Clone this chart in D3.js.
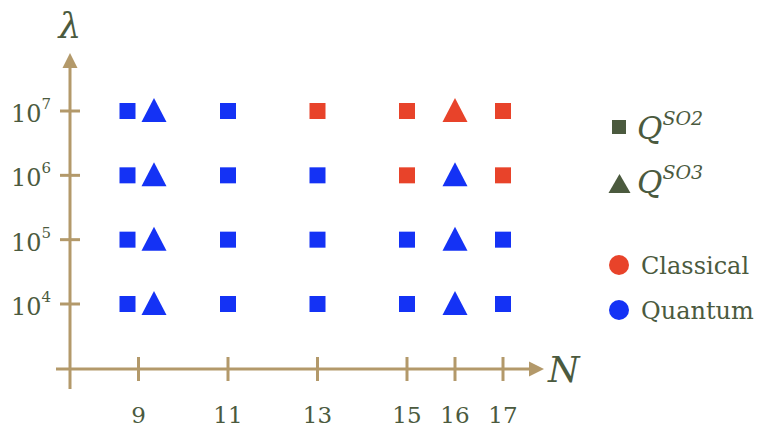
<!DOCTYPE html>
<html>
<head>
<meta charset="utf-8">
<title>SO2 / SO3 classical vs quantum</title>
<script src="https://cdn.jsdelivr.net/npm/d3@7/dist/d3.min.js"></script>
<style>
  body { margin: 0; background: #fff; }
  text { font-family: "DejaVu Serif", "Liberation Serif", serif; fill: #4b5a3e; }
</style>
</head>
<body>
<script>
// data
var nTicks = [9, 11, 13, 15, 16, 17];
var lambdaTicks = [1e4, 1e5, 1e6, 1e7];
var so2N = [9, 11, 13, 15, 17];
var so3N = [9, 16];
// [N, lambda] pairs where the classical method wins; every other point is quantum
var so2Classical = [[13, 1e7], [15, 1e7], [17, 1e7], [15, 1e6], [17, 1e6]];
var so3Classical = [[16, 1e7]];

var w = 766, h = 431;
var axisCol = "#b3996a", textCol = "#4b5a3e";
var red = "#e8432a", blue = "#1432f5";

var svg = d3.select("body").append("svg")
    .attr("width", w)
    .attr("height", h);

// N spacing is not uniform in the figure (9..15 wide, 15..17 narrow)
var x = d3.scaleLinear().domain([9, 15, 17]).range([138.5, 407, 503]);
var y = d3.scaleLog().domain([1e4, 1e7]).range([304, 111]);
var x0 = 70, y0 = 369;

function isClassical(list, n, l) {
    return list.some(function(p) { return p[0] === n && p[1] === l; });
}

// axes
svg.append("line").attr("x1", x0).attr("x2", x0).attr("y1", 389).attr("y2", 64)
    .attr("stroke", axisCol).attr("stroke-width", 3);
svg.append("path").attr("d", "M" + x0 + ",53 L" + (x0 - 7.5) + ",68 L" + (x0 + 7.5) + ",68 Z")
    .attr("fill", axisCol);
svg.append("line").attr("x1", 56).attr("x2", 532).attr("y1", y0).attr("y2", y0)
    .attr("stroke", axisCol).attr("stroke-width", 3);
svg.append("path").attr("d", "M544," + y0 + " L529," + (y0 - 7.5) + " L529," + (y0 + 7.5) + " Z")
    .attr("fill", axisCol);

// ticks
svg.selectAll("line.xt").data(nTicks).enter().append("line")
    .attr("class", "xt")
    .attr("x1", function(d) { return x(d); }).attr("x2", function(d) { return x(d); })
    .attr("y1", y0 - 12).attr("y2", y0 + 12)
    .attr("stroke", axisCol).attr("stroke-width", 3);
svg.selectAll("line.yt").data(lambdaTicks).enter().append("line")
    .attr("class", "yt")
    .attr("x1", x0 - 10).attr("x2", x0 + 10)
    .attr("y1", function(d) { return y(d); }).attr("y2", function(d) { return y(d); })
    .attr("stroke", axisCol).attr("stroke-width", 3);

// tick labels
svg.selectAll("text.xl").data(nTicks).enter().append("text")
    .attr("class", "xl")
    .attr("x", function(d) { return x(d); })
    .attr("y", 423)
    .attr("text-anchor", "middle")
    .attr("font-size", "23px")
    .text(function(d) { return d; });
var yl = svg.selectAll("text.yl").data(lambdaTicks).enter().append("text")
    .attr("class", "yl")
    .attr("x", 51)
    .attr("y", function(d) { return y(d) + 11; })
    .attr("text-anchor", "end")
    .attr("font-size", "24px");
yl.append("tspan").text("10");
yl.append("tspan").attr("dy", -13).attr("font-size", "15px")
    .text(function(d) { return Math.round(Math.log10(d)); });

// axis titles
svg.append("text").attr("x", x0).attr("y", 38).attr("text-anchor", "middle")
    .attr("font-size", "36px").attr("font-style", "italic").text("λ");
svg.append("text").attr("x", 548).attr("y", 382)
    .attr("font-size", "36px").attr("font-style", "italic").text("N");

// points
var so2Pts = [], so3Pts = [];
so2N.forEach(function(n) {
    lambdaTicks.forEach(function(l) {
        so2Pts.push({ n: n, l: l, c: isClassical(so2Classical, n, l) });
    });
});
so3N.forEach(function(n) {
    lambdaTicks.forEach(function(l) {
        so3Pts.push({ n: n, l: l, c: isClassical(so3Classical, n, l) });
    });
});
// where both shapes share an N, push the square left and the triangle right
function sqX(d) { return x(d.n) + (so3N.indexOf(d.n) >= 0 ? -11 : 0); }
function trX(d) { return x(d.n) + (so2N.indexOf(d.n) >= 0 ? 15.5 : 0); }

var sq = 16;
svg.selectAll("rect.so2").data(so2Pts).enter().append("rect")
    .attr("class", "so2")
    .attr("x", function(d) { return sqX(d) - sq / 2; })
    .attr("y", function(d) { return y(d.l) - sq / 2; })
    .attr("width", sq).attr("height", sq)
    .attr("fill", function(d) { return d.c ? red : blue; });

function tri(cx, cy, hw, up, down) {
    return "M" + cx + "," + (cy - up) + " L" + (cx + hw) + "," + (cy + down) +
        " L" + (cx - hw) + "," + (cy + down) + " Z";
}
svg.selectAll("path.so3").data(so3Pts).enter().append("path")
    .attr("class", "so3")
    .attr("d", function(d) { return tri(trX(d), y(d.l), 12.5, 13, 11); })
    .attr("fill", function(d) { return d.c ? red : blue; });

// legend
svg.append("rect").attr("x", 612).attr("y", 120).attr("width", 14).attr("height", 14)
    .attr("fill", textCol);
var q2 = svg.append("text").attr("x", 637).attr("y", 139).attr("font-style", "italic")
    .attr("font-size", "31px");
q2.append("tspan").text("Q");
q2.append("tspan").attr("dy", -14).attr("font-size", "19px").text("SO2");
svg.append("path").attr("d", tri(619.5, 184, 11, 10, 9)).attr("fill", textCol);
var q3 = svg.append("text").attr("x", 637).attr("y", 193).attr("font-style", "italic")
    .attr("font-size", "31px");
q3.append("tspan").text("Q");
q3.append("tspan").attr("dy", -14).attr("font-size", "19px").text("SO3");

svg.append("circle").attr("cx", 619).attr("cy", 265).attr("r", 10).attr("fill", red);
svg.append("text").attr("x", 641).attr("y", 274).attr("font-size", "24px").text("Classical");
svg.append("circle").attr("cx", 619).attr("cy", 310).attr("r", 10).attr("fill", blue);
svg.append("text").attr("x", 641).attr("y", 319).attr("font-size", "24px").text("Quantum");
</script>
</body>
</html>
